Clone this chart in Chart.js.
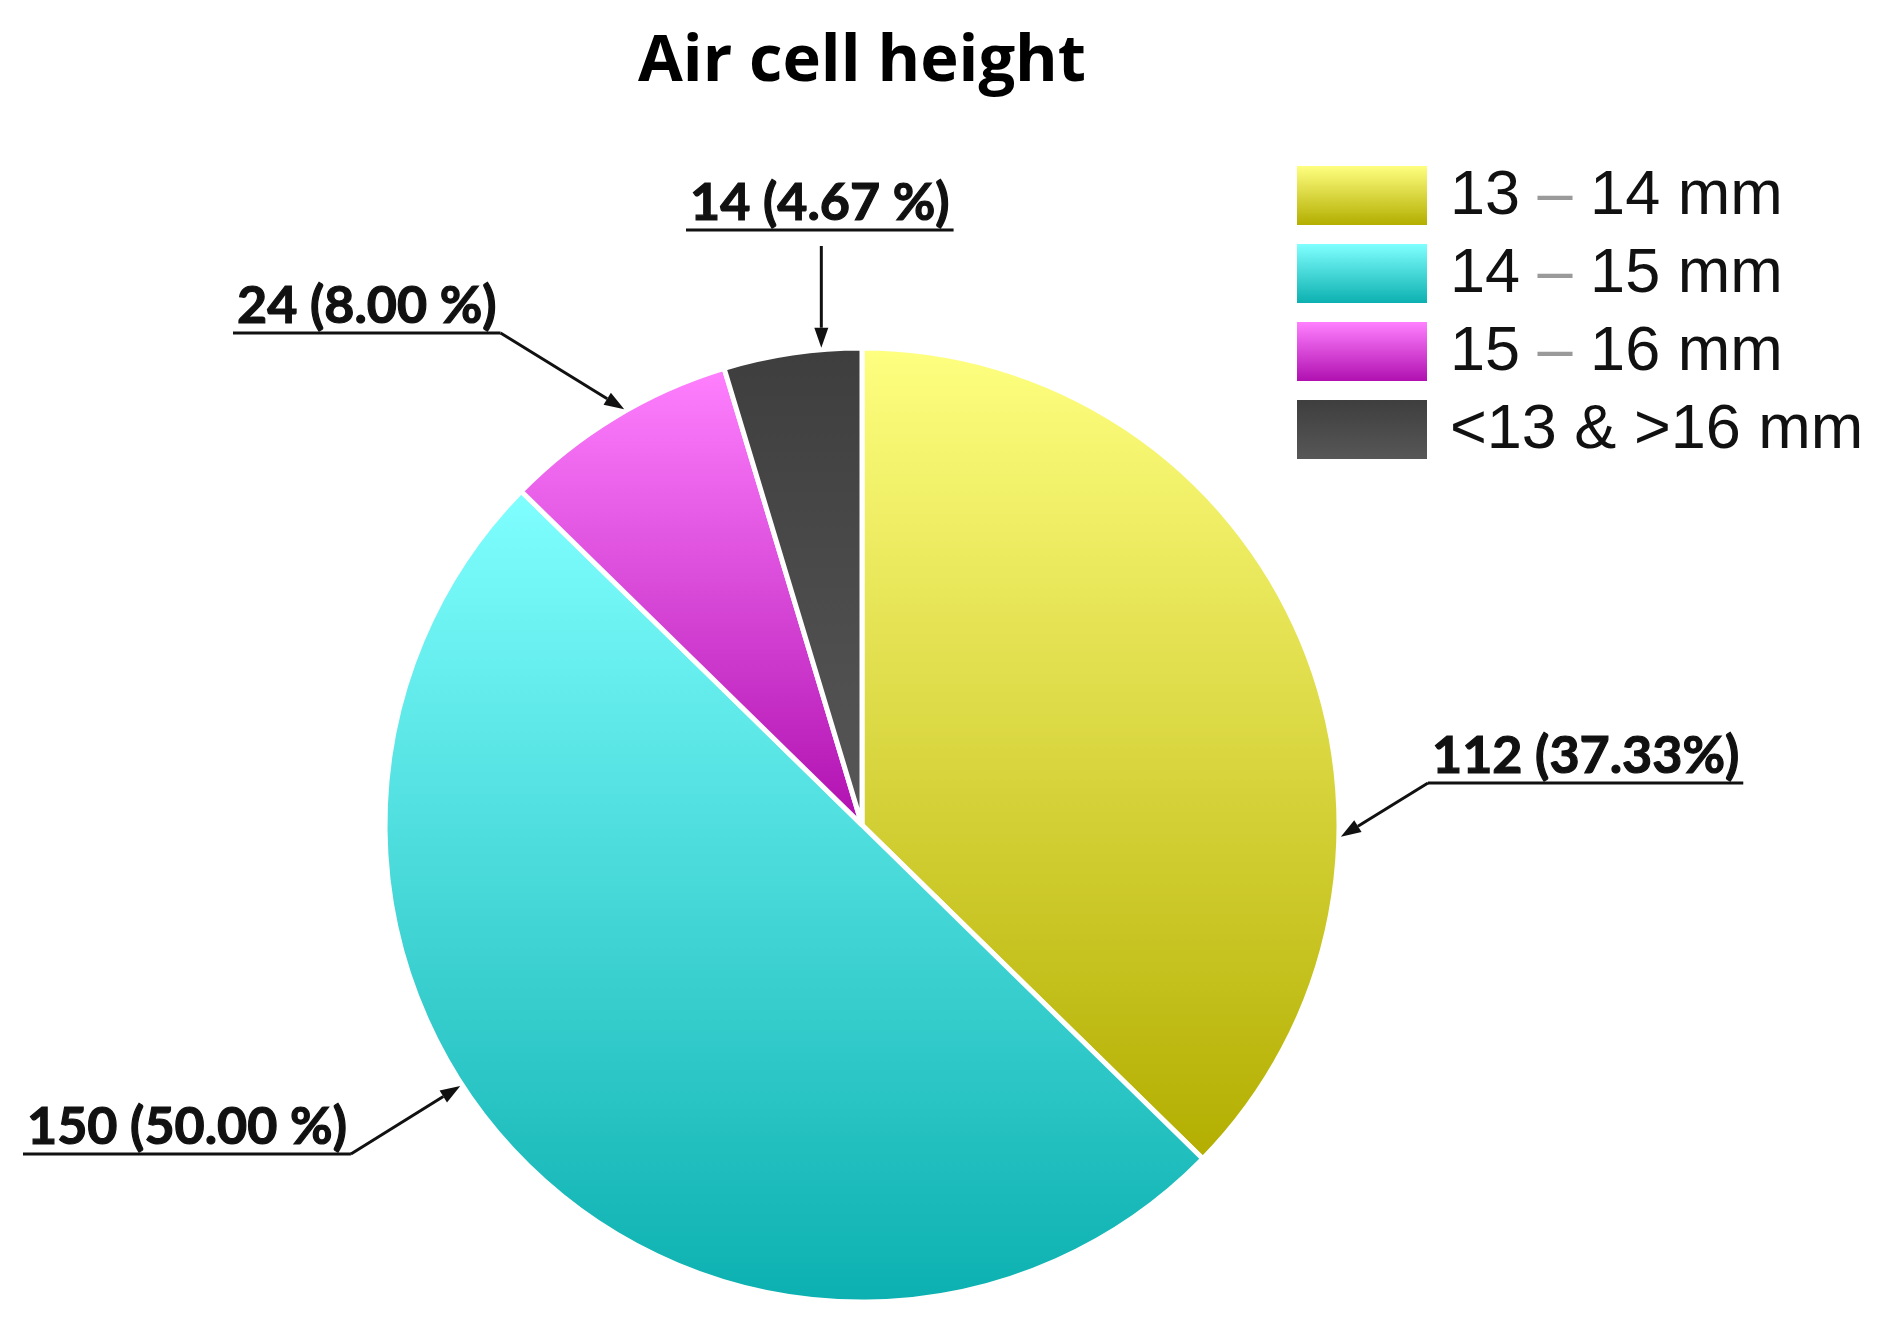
<!DOCTYPE html>
<html lang="en">
<head>
<meta charset="utf-8">
<title>Air cell height</title>
<style>
  html, body { margin: 0; padding: 0; background: #fff; }
  #wrap { width: 1895px; height: 1321px; }
</style>
</head>
<body>
<div id="wrap"><canvas id="chart"></canvas></div>
<script src="https://cdn.jsdelivr.net/npm/chart.js@4.4.0/dist/chart.umd.min.js"></script>
<script>
var categories = ['13 – 14 mm', '14 – 15 mm', '15 – 16 mm', '<13 & >16 mm'];
var counts = [112, 150, 24, 14];
var calloutText = ['112 (37.33%)', '150 (50.00 %)', '24 (8.00 %)', '14 (4.67 %)'];
var topColors = ['#ffff80', '#80ffff', '#ff80ff', '#3e3e3e'];
var bottomColors = ['#b3ae00', '#0cb0b0', '#b010b0', '#575757'];

// where each callout sits: text left x, underline y, side the leader leaves from,
// and how far along the slice the arrow lands (0 = slice start, 1 = slice end)
var callouts = [
    {x: 1432, y: 783, from: 'left', along: 0.68},
    {x: 27, y: 1154, from: 'right', along: 0.57},
    {x: 237, y: 333, from: 'right', along: 0.55},
    {x: 690, y: 230, from: 'down', along: 0.71}
];

function arcYRange(arc) {
    var r = arc.outerRadius;
    var ys = [arc.y, arc.y + r * Math.sin(arc.startAngle), arc.y + r * Math.sin(arc.endAngle)];
    [-Math.PI / 2, Math.PI / 2, 3 * Math.PI / 2].forEach(function (a) {
        if (a > arc.startAngle && a < arc.endAngle) ys.push(arc.y + r * Math.sin(a));
    });
    return [Math.min.apply(null, ys), Math.max.apply(null, ys)];
}

function vGradient(ctx, y0, y1, i) {
    var g = ctx.createLinearGradient(0, y0, 0, y1);
    g.addColorStop(0, topColors[i]);
    g.addColorStop(1, bottomColors[i]);
    return g;
}

function arrow(ctx, x0, y0, x1, y1) {
    var ang = Math.atan2(y1 - y0, x1 - x0);
    var len = 20, half = 7;
    var bx = x1 - len * Math.cos(ang), by = y1 - len * Math.sin(ang);
    ctx.beginPath();
    ctx.moveTo(x0, y0);
    ctx.lineTo(bx, by);
    ctx.stroke();
    ctx.beginPath();
    ctx.moveTo(x1, y1);
    ctx.lineTo(bx + half * Math.sin(ang), by - half * Math.cos(ang));
    ctx.lineTo(bx - half * Math.sin(ang), by + half * Math.cos(ang));
    ctx.closePath();
    ctx.fill();
}

var sliceGradients = {
    id: 'sliceGradients',
    beforeDatasetsDraw: function (chart) {
        var ctx = chart.ctx;
        chart.getDatasetMeta(0).data.forEach(function (arc, i) {
            var yr = arcYRange(arc);
            arc.options.backgroundColor = vGradient(ctx, yr[0], yr[1], i);
        });
    }
};

var callouts_plugin = {
    id: 'callouts',
    afterDatasetsDraw: function (chart) {
        var ctx = chart.ctx;
        ctx.save();
        ctx.font = 'bold 52px Lato';
        ctx.textBaseline = 'alphabetic';
        ctx.fillStyle = '#111';
        ctx.strokeStyle = '#111';
        chart.getDatasetMeta(0).data.forEach(function (arc, i) {
            var c = callouts[i];
            var txt = calloutText[i];
            var w = ctx.measureText(txt).width;
            ctx.lineWidth = 1.2;
            ctx.fillText(txt, c.x, c.y - 10);
            ctx.strokeText(txt, c.x, c.y - 10);
            ctx.lineWidth = 3;
            ctx.beginPath();
            ctx.moveTo(c.x - 4, c.y);
            ctx.lineTo(c.x + w + 4, c.y);
            ctx.stroke();

            var a = arc.startAngle + c.along * (arc.endAngle - arc.startAngle);
            var tx = arc.x + (arc.outerRadius + 2) * Math.cos(a);
            var ty = arc.y + (arc.outerRadius + 2) * Math.sin(a);
            var sx, sy;
            if (c.from === 'left') { sx = c.x - 4; sy = c.y; }
            else if (c.from === 'right') { sx = c.x + w + 4; sy = c.y; }
            else { sx = tx; sy = c.y + 16; }
            ctx.lineWidth = 3;
            arrow(ctx, sx, sy, tx, ty);
        });
        ctx.restore();
    }
};

var legendBoxes = {
    id: 'legendBoxes',
    afterDraw: function (chart) {
        var ctx = chart.ctx;
        var bx = 1297, by = 166, bw = 130, bh = 59, step = 78;
        ctx.save();
        ctx.font = '63px "Liberation Sans"';
        ctx.textBaseline = 'middle';
        categories.forEach(function (label, i) {
            var y = by + i * step;
            ctx.fillStyle = vGradient(ctx, y, y + bh, i);
            ctx.fillRect(bx, y, bw, bh);
            var parts = label.split(' – ');
            var x = 1450, ty = y + bh / 2 + 1;
            ctx.fillStyle = '#111';
            ctx.fillText(parts[0], x, ty);
            if (parts.length > 1) {
                x += ctx.measureText(parts[0]).width;
                ctx.fillStyle = '#9a9a9a';
                ctx.fillText(' – ', x, ty);
                x += ctx.measureText(' – ').width;
                ctx.fillStyle = '#111';
                ctx.fillText(parts[1], x, ty);
            }
        });
        ctx.restore();
    }
};

var pie = new Chart(document.getElementById('chart'), {
    type: 'pie',
    data: {
        labels: categories,
        datasets: [{
            data: counts,
            backgroundColor: topColors,
            borderColor: '#ffffff',
            borderWidth: 5,
            radius: 477
        }]
    },
    options: {
        responsive: true,
        maintainAspectRatio: false,
        animation: false,
        events: [],
        layout: {padding: {top: 13, right: 171, left: 0, bottom: 0}},
        plugins: {
            legend: {display: false},
            tooltip: {enabled: false},
            title: {
                display: true,
                text: 'Air cell height',
                color: '#000',
                font: {family: 'Open Sans', size: 65, weight: 'bold', lineHeight: 1.2},
                padding: {top: 10, bottom: 228}
            }
        }
    },
    plugins: [sliceGradients, callouts_plugin, legendBoxes]
});
</script>
</body>
</html>
